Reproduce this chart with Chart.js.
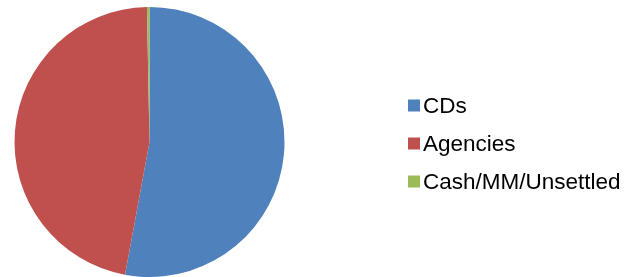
<!DOCTYPE html>
<html>
<head>
<meta charset="utf-8">
<script src="https://cdn.jsdelivr.net/npm/chart.js@4"></script>
<style>
  html, body { margin: 0; padding: 0; background: #fff; }
  #wrap { width: 636px; height: 277px; position: relative; }
</style>
</head>
<body>
<div id="wrap"><canvas id="chartCanvas"></canvas></div>
<script>
const labels = ["CDs", "Agencies", "Cash/MM/Unsettled"];
const shares = [52.9, 46.8, 0.3];
const colors = ["#4F81BD", "#C0504D", "#9BBB59"];

// legend drawn on the right, one row per slice
const sideLegend = {
  id: "sideLegend",
  afterDraw(chart) {
    const ctx = chart.ctx;
    const meta = chart.getDatasetMeta(0);
    ctx.save();
    ctx.font = "22.5px 'Liberation Sans', Arial, sans-serif";
    ctx.textBaseline = "middle";
    labels.forEach((label, i) => {
      const y = 105.5 + i * 38;
      ctx.fillStyle = meta.data[i].options.backgroundColor;
      ctx.fillRect(408, y - 6, 12, 12);
      ctx.fillStyle = "#000";
      ctx.fillText(label, 423, y + 1);
    });
    ctx.restore();
  }
};

const ctx = document.getElementById("chartCanvas").getContext("2d");
const chart = new Chart(ctx, {
  type: "pie",
  data: {
    labels: labels,
    datasets: [{
      data: shares,
      backgroundColor: colors,
      borderWidth: 0
    }]
  },
  options: {
    responsive: true,
    maintainAspectRatio: false,
    animation: false,
    layout: { padding: { left: 14, top: 7, right: 351, bottom: 0 } },
    plugins: {
      legend: { display: false },
      tooltip: { enabled: false }
    }
  },
  plugins: [sideLegend]
});
</script>
</body>
</html>
